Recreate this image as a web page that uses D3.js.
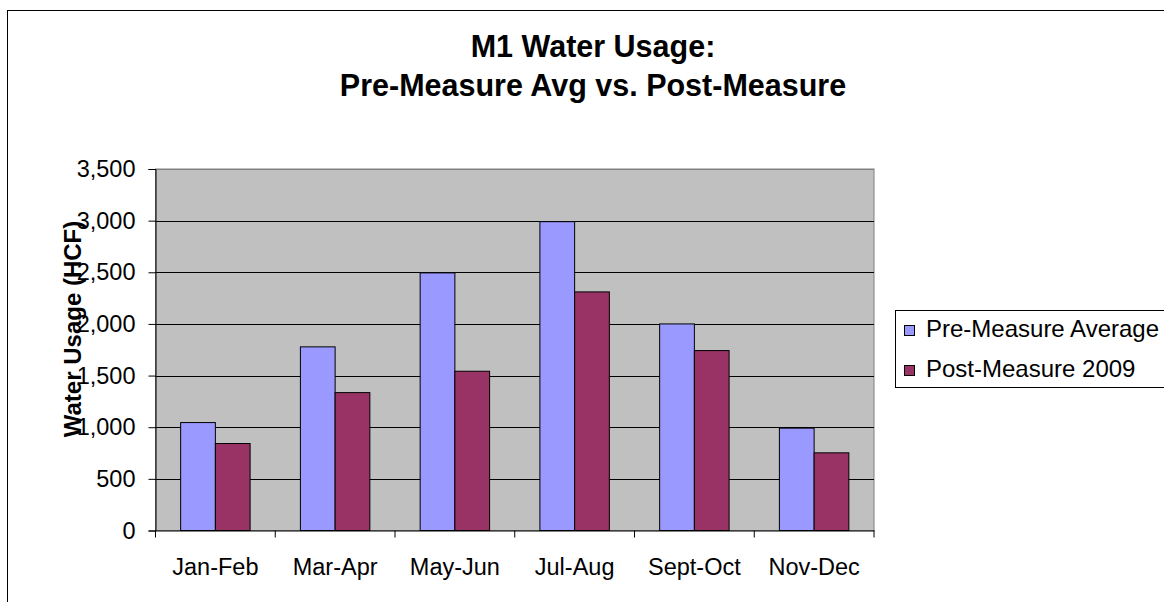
<!DOCTYPE html>
<html><head><meta charset="utf-8">
<script src="https://cdn.jsdelivr.net/npm/d3@7"></script>
<style>body{margin:0;background:#fff}svg{display:block}text{font-family:"Liberation Sans",Arial,sans-serif}</style>
</head><body><svg id="c" width="1164" height="602"></svg>
<script>
const categories = ["Jan-Feb","Mar-Apr","May-Jun","Jul-Aug","Sept-Oct","Nov-Dec"];
const seriesNames = ["Pre-Measure Average","Post-Measure 2009"];
const preMeasure = [1045,1778,2494,2990,2000,991];
const postMeasure = [842,1335,1542,2310,1742,752];
const yTicks = [0,500,1000,1500,2000,2500,3000,3500];
const colors = ["#9999FF","#993366"];
const titleLines = ["M1 Water Usage:","Pre-Measure Avg vs. Post-Measure"];
const yTitle = "Water Usage (HCF)";

const svg = d3.select("#c");
svg.append("rect").attr("x",7.5).attr("y",10.5).attr("width",1200).attr("height",700)
  .attr("fill","#fff").attr("stroke","#000").attr("stroke-width",1);

const L=155.5, R=874, T=169, B=530.5;
const x = d3.scaleBand().domain(categories).range([L,R]).paddingInner(0.42).paddingOuter(0.21);
const x0 = d3.scaleBand().domain(categories).range([L,R]);
const xs = d3.scaleBand().domain([0,1]).range([0,x.bandwidth()]);
const y = d3.scaleLinear().domain([0,3500]).range([B,T]);

svg.append("rect").attr("x",L).attr("y",T).attr("width",R-L).attr("height",B-T)
  .attr("fill","#C0C0C0").attr("stroke","#808080");

svg.append("g").selectAll("line").data(yTicks.filter(d=>d>0)).join("line")
  .attr("x1",L).attr("x2",R).attr("y1",d=>Math.round(y(d))+0.5).attr("y2",d=>Math.round(y(d))+0.5)
  .attr("stroke",d=>d===3500?"#808080":"#000");

const data = categories.map((c,i)=>({c, v:[preMeasure[i],postMeasure[i]]}));
const g = svg.append("g");
data.forEach(d=>{
  d.v.forEach((v,k)=>{
    g.append("rect").attr("x",x(d.c)+xs(k)).attr("y",y(v)).attr("width",xs.bandwidth()).attr("height",B-y(v))
      .attr("fill",colors[k]).attr("stroke","#000").attr("stroke-width",1);
  });
});

// axes
const yAxis = d3.axisLeft(y).tickValues(yTicks).tickSize(7).tickPadding(13).tickFormat(d3.format(","));
const ya = svg.append("g").attr("transform",`translate(${L},0)`).call(yAxis);
ya.select(".domain").attr("stroke","#000");
ya.selectAll("text").attr("font-size",23.5).attr("fill","#000");

const xAxis = d3.axisBottom(x0).tickSize(0).tickPadding(28);
const xa = svg.append("g").attr("transform",`translate(0,${B})`).call(xAxis);
xa.select(".domain").attr("stroke","#000");
xa.selectAll("text").attr("font-size",23.5).attr("fill","#000");
svg.append("g").selectAll("line").data(categories.concat(["_end"])).join("line")
  .attr("x1",(d,i)=>i<categories.length?x0(d):R).attr("x2",(d,i)=>i<categories.length?x0(d):R)
  .attr("y1",B).attr("y2",B+7).attr("stroke","#000");

// title
svg.append("text").attr("text-anchor","middle").attr("font-weight","bold").attr("font-size",30.5)
  .selectAll("tspan").data(titleLines).join("tspan").attr("x",593).attr("y",(d,i)=>57+i*39).text(d=>d);

svg.append("text").attr("transform",`translate(81,329) rotate(-90)`).attr("text-anchor","middle")
  .attr("font-weight","bold").attr("font-size",24).text(yTitle);

// legend
const lg = svg.append("g");
lg.append("rect").attr("x",895.5).attr("y",310.5).attr("width",300).attr("height",77).attr("fill","#fff").attr("stroke","#000");
seriesNames.forEach((s,i)=>{
  lg.append("rect").attr("x",904.5).attr("y",325.5+i*40).attr("width",10).attr("height",10).attr("fill",colors[i]).attr("stroke","#000");
  lg.append("text").attr("x",926).attr("y",337+i*40).attr("font-size",24).text(s);
});
</script></body></html>
